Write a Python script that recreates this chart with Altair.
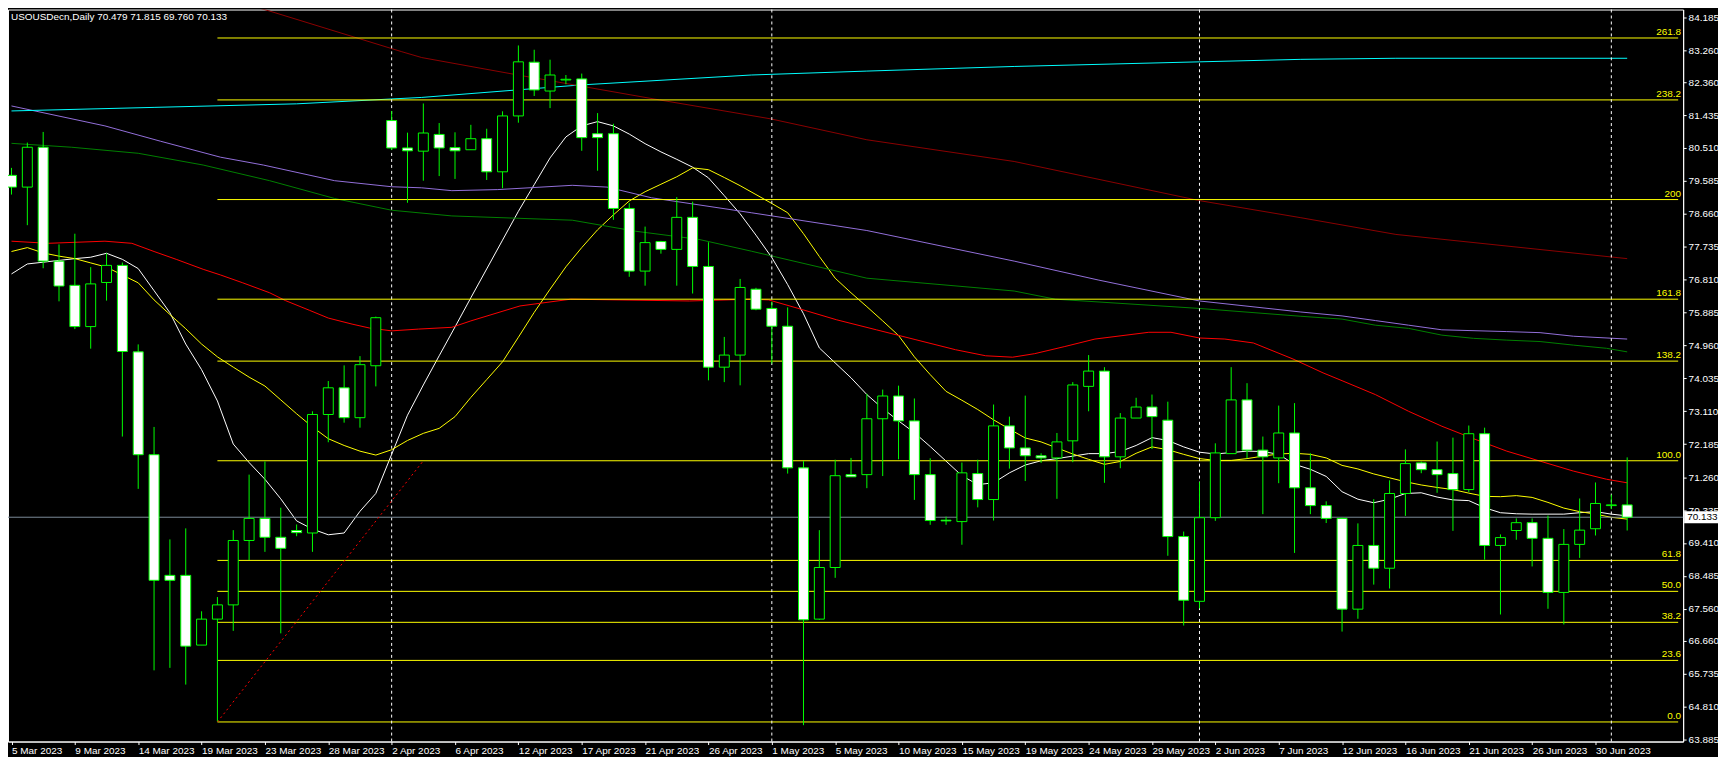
import altair as alt
import pandas as pd

TITLE = "USOUSDecn,Daily  70.479 71.815 69.760 70.133"

# ---- daily candles (bar index 0 = 5 Mar 2023 ... 102 = 3 Jul 2023) ----
opens = [79.74, 79.41, 80.53, 77.33, 76.65, 75.49, 76.73, 77.21, 74.78, 71.89,
         68.50, 68.50, 66.54, 67.27, 67.67, 69.48, 70.10, 69.57, 69.76, 69.69,
         73.02, 73.77, 72.93, 74.39, 81.28, 80.51, 80.42, 80.89, 80.52, 80.46,
         80.77, 79.84, 81.41, 82.92, 82.11, 82.42, 82.45, 80.91, 80.91, 78.81,
         77.05, 77.88, 77.66, 78.56, 77.18, 74.35, 74.69, 76.54, 76.00, 75.50,
         71.52, 67.27, 68.72, 71.33, 71.33, 72.90, 73.54, 72.84, 71.33, 70.05,
         70.01, 71.36, 70.63, 72.70, 72.08, 71.86, 71.80, 72.28, 73.81, 74.24,
         71.83, 72.92, 73.23, 72.86, 69.59, 67.77, 70.12, 71.92, 73.43, 72.02,
         71.80, 72.50, 70.96, 70.46, 70.10, 67.55, 69.34, 68.70, 70.80, 71.66,
         71.47, 71.36, 70.91, 72.48, 69.34, 69.76, 69.98, 69.54, 68.02, 69.37,
         69.81, 70.46, 70.479]
highs = [79.95, 80.66, 80.96, 77.80, 78.10, 77.16, 77.55, 77.29, 74.99, 72.67,
         69.51, 69.82, 67.49, 67.89, 69.77, 71.33, 71.70, 70.40, 69.93, 73.11,
         73.96, 74.40, 74.66, 75.77, 81.55, 80.94, 81.76, 81.21, 80.95, 81.16,
         81.05, 81.54, 83.39, 83.27, 82.99, 82.56, 82.60, 81.49, 81.19, 78.96,
         78.30, 77.90, 79.13, 79.00, 77.86, 75.20, 76.83, 76.58, 76.19, 76.03,
         71.71, 69.77, 71.75, 71.80, 73.60, 73.72, 73.83, 73.47, 71.79, 70.15,
         71.67, 71.75, 73.30, 72.96, 73.55, 71.93, 72.50, 73.93, 74.69, 74.35,
         73.06, 73.49, 73.58, 73.38, 69.73, 71.12, 72.21, 74.35, 73.90, 72.40,
         73.27, 73.34, 71.93, 70.58, 70.12, 69.96, 70.64, 71.17, 72.04, 71.70,
         72.26, 72.37, 72.71, 72.65, 69.65, 70.10, 70.10, 70.18, 69.80, 70.66,
         71.11, 70.77, 71.815]
lows = [79.20, 78.34, 77.13, 76.20, 75.42, 74.87, 76.22, 72.40, 70.93, 65.83,
        65.90, 65.43, 66.54, 64.38, 66.94, 68.93, 69.16, 66.87, 69.60, 69.16,
        72.24, 72.79, 72.65, 73.81, 80.45, 78.97, 79.59, 79.72, 79.64, 80.46,
        79.61, 79.38, 81.22, 81.97, 81.63, 82.30, 80.43, 79.87, 78.49, 76.89,
        76.64, 77.54, 76.64, 76.42, 73.98, 73.93, 73.84, 75.95, 74.45, 71.36,
        64.29, 67.25, 68.43, 71.27, 70.95, 71.29, 71.76, 70.62, 69.92, 69.92,
        69.36, 70.41, 70.04, 71.50, 71.15, 71.66, 70.65, 71.68, 73.11, 71.10,
        71.51, 72.92, 72.05, 69.05, 67.09, 67.57, 70.03, 71.92, 71.79, 70.22,
        71.09, 69.13, 70.22, 69.97, 66.92, 67.28, 68.24, 68.13, 70.17, 71.37,
        70.82, 69.75, 70.84, 68.94, 67.40, 69.50, 68.75, 67.56, 67.12, 68.99,
        69.62, 70.36, 69.760]
closes = [79.41, 80.53, 77.33, 76.63, 75.49, 76.69, 77.21, 74.79, 71.89, 68.36,
          68.36, 66.51, 67.27, 67.67, 69.48, 70.10, 69.57, 69.26, 69.70, 73.02,
          73.77, 72.93, 74.42, 75.74, 80.51, 80.43, 80.93, 80.51, 80.43, 80.77,
          79.84, 81.41, 82.93, 82.14, 82.56, 82.44, 80.80, 80.80, 78.81, 77.05,
          77.85, 77.66, 78.56, 77.18, 74.35, 74.69, 76.59, 75.98, 75.50, 71.52,
          67.25, 68.72, 71.30, 71.27, 72.90, 73.54, 72.84, 71.33, 70.04, 70.03,
          71.38, 70.63, 72.70, 72.08, 71.86, 71.80, 72.25, 73.85, 74.24, 71.83,
          72.92, 73.23, 72.96, 69.59, 67.80, 70.12, 71.94, 73.43, 72.02, 71.83,
          72.50, 70.96, 70.46, 70.10, 67.55, 69.34, 68.70, 70.80, 71.64, 71.47,
          71.33, 70.91, 72.48, 69.34, 69.56, 69.98, 69.54, 68.02, 69.37, 69.77,
          70.52, 70.48, 70.133]

# ---- moving averages ----
ma_white = [76.97, 77.25, 77.30, 77.35, 77.40, 77.44, 77.55, 77.38, 77.12, 76.50,
            75.88, 75.00, 74.28, 73.40, 72.19, 71.67, 71.20, 70.65, 70.03, 69.80,
            69.64, 69.69, 70.30, 70.80, 71.90, 73.00, 73.85, 74.67, 75.48, 76.30,
            77.11, 77.92, 78.73, 79.48, 80.23, 80.82, 81.13, 81.25, 81.13, 80.90,
            80.63, 80.40, 80.19, 79.97, 79.67, 79.17, 78.66, 78.06, 77.43, 76.67,
            75.85, 74.89, 74.47, 74.05, 73.58, 73.19, 72.84, 72.51, 72.12, 71.71,
            71.30, 71.05, 71.10, 71.38, 71.60, 71.72, 71.78, 71.85, 71.92, 71.92,
            71.98, 72.15, 72.37, 72.29, 72.11, 71.96, 71.91, 71.95, 71.99, 71.98,
            71.90, 71.62, 71.48, 71.28, 70.85, 70.64, 70.54, 70.64, 70.80, 70.82,
            70.70, 70.62, 70.60, 70.40, 70.26, 70.23, 70.22, 70.22, 70.22, 70.26,
            70.29, 70.22, 70.17]
ma_yellow = [77.60, 77.71, 77.56, 77.47, 77.40, 77.28, 77.16, 76.94, 76.72, 76.24,
             75.83, 75.43, 75.00, 74.64, 74.35, 74.07, 73.82, 73.43, 73.04, 72.67,
             72.34, 72.15, 71.99, 71.88, 72.03, 72.29, 72.49, 72.63, 72.96, 73.50,
             74.00, 74.50, 75.19, 75.89, 76.54, 77.17, 77.71, 78.21, 78.63, 79.02,
             79.28, 79.49, 79.70, 79.95, 79.90, 79.68, 79.45, 79.20, 78.95, 78.69,
             78.10, 77.46, 76.85, 76.44, 76.05, 75.65, 75.24, 74.64, 74.14, 73.67,
             73.42, 73.16, 72.87, 72.61, 72.36, 72.25, 72.08, 71.91, 71.76, 71.62,
             71.70, 71.93, 72.11, 72.03, 71.90, 71.78, 71.73, 71.73, 71.78, 71.85,
             71.91, 71.93, 71.90, 71.80, 71.59, 71.49, 71.35, 71.24, 71.13, 71.04,
             70.97, 70.91, 70.81, 70.72, 70.71, 70.74, 70.69, 70.55, 70.39, 70.29,
             70.22, 70.13, 70.08]
red_i = [0, 2.3, 5.9, 7.6, 9, 10.4, 12.1, 13.2, 14.6, 16.3, 17.3, 18.8, 20, 21.5, 22.6,
         24, 25.7, 27.8, 29, 32.1, 35.3, 42.8, 46.7, 47.8, 49.6, 52.1, 54.6, 57.1,
         59.6, 61.5, 63.2, 64.6, 66.5, 68.4, 71.8, 73.2, 75, 76.6, 78.4, 80.9, 82.8,
         84, 86.1, 88.2, 90.3, 92.3, 94.4, 96.5, 98.6, 100.7, 102]
red_v = [77.89, 77.83, 77.89, 77.83, 77.60, 77.38, 77.10, 76.94, 76.72, 76.44, 76.22,
         75.95, 75.73, 75.56, 75.45, 75.37, 75.42, 75.47, 75.65, 76.07, 76.26, 76.21,
         76.26, 76.24, 76.01, 75.68, 75.40, 75.12, 74.84, 74.67, 74.63, 74.73, 74.93,
         75.14, 75.33, 75.33, 75.17, 75.14, 75.03, 74.58, 74.19, 73.97, 73.58, 73.11,
         72.69, 72.34, 71.99, 71.71, 71.43, 71.20, 71.10]
purple_i = [0, 5.9, 9.4, 13.2, 15.9, 20.4, 24, 25.9, 27.8, 30.7, 35.4, 37.6, 40.4,
            46.7, 54, 63.3, 68.6, 75, 81.4, 84, 86.1, 88.2, 90.3, 94.4, 96.5, 98.6, 102]
purple_v = [81.69, 81.13, 80.70, 80.25, 80.03, 79.59, 79.42, 79.39, 79.31, 79.34,
            79.46, 79.41, 79.11, 78.69, 78.19, 77.33, 76.80, 76.21, 75.90, 75.79,
            75.66, 75.53, 75.40, 75.35, 75.32, 75.22, 75.14]
green_i = [0, 3.8, 8, 12.1, 16.3, 20.4, 24, 27.8, 35.4, 39.4, 43.4, 46.7, 54, 63.3,
           65.9, 75, 81.4, 84, 86.1, 88.2, 90.3, 92.3, 94.4, 96.5, 98.6, 100.7, 102]
green_v = [80.64, 80.53, 80.36, 80.03, 79.59, 79.09, 78.76, 78.60, 78.48, 78.17,
           77.94, 77.61, 76.85, 76.49, 76.26, 76.00, 75.78, 75.70, 75.53, 75.44,
           75.25, 75.16, 75.11, 75.07, 74.97, 74.88, 74.78]
cyan_i = [0, 9, 18, 25.9, 35.9, 46.7, 54, 63.3, 75, 81.4, 87.4, 102]
cyan_v = [81.55, 81.65, 81.75, 81.93, 82.28, 82.56, 82.67, 82.80, 82.93, 83.00, 83.03, 83.03]
maroon_i = [9.6, 16.2, 24.6, 25.9, 32.1, 40.9, 47.9, 54, 63.3, 75, 81.4, 87.4, 102]
maroon_v = [85.20, 84.37, 83.22, 83.05, 82.55, 81.86, 81.33, 80.74, 80.13, 79.03,
            78.55, 78.08, 77.40]

# ---- Fibonacci levels (swing low at bar 13, swing high at bar 26) ----
fib_labels = ["261.8", "238.2", "200", "161.8", "138.2", "100.0", "61.8", "50.0", "38.2", "23.6", "0.0"]
fib_levels = [83.60, 81.86, 79.06, 76.26, 74.52, 71.72, 68.92, 68.05, 67.18, 66.11, 64.38]
fib_anchor_i = [13, 26]
fib_anchor_v = [64.38, 71.72]

# ---- month separators, current price ----
sep_i = [24, 48, 75, 101]
last_price = 70.133

# ---- axes ----
tick_idx = [0, 4, 8, 12, 16, 20, 24, 28, 32, 36, 40, 44, 48, 52, 56, 60, 64, 68, 72,
            76, 80, 84, 88, 92, 96, 100]
tick_lbl = ["5 Mar 2023", "9 Mar 2023", "14 Mar 2023", "19 Mar 2023", "23 Mar 2023",
            "28 Mar 2023", "2 Apr 2023", "6 Apr 2023", "12 Apr 2023", "17 Apr 2023",
            "21 Apr 2023", "26 Apr 2023", "1 May 2023", "5 May 2023", "10 May 2023",
            "15 May 2023", "19 May 2023", "24 May 2023", "29 May 2023", "2 Jun 2023",
            "7 Jun 2023", "12 Jun 2023", "16 Jun 2023", "21 Jun 2023", "26 Jun 2023",
            "30 Jun 2023"]
price_ticks = [84.185, 83.260, 82.360, 81.435, 80.510, 79.585, 78.660, 77.735, 76.810,
               75.885, 74.960, 74.035, 73.110, 72.185, 71.260, 70.335, 69.410, 68.485,
               67.560, 66.660, 65.735, 64.810, 63.885]

W, H = 1682, 735
X_DOM = [0.09375, 105.21875]
Y_DOM = [63.83, 84.40]
FONT = "Liberation Sans"

xs = alt.Scale(domain=X_DOM, nice=False, zero=False)
ys = alt.Scale(domain=Y_DOM, nice=False, zero=False)

label_expr = ""
for i, l in zip(tick_idx, tick_lbl):
    label_expr += f"datum.value == {i} ? '{l}' : "
label_expr += "''"

xaxis = alt.Axis(values=tick_idx, labelExpr=label_expr, title=None, grid=False,
                 labelAlign="left", labelBaseline="top", tickSize=3, labelPadding=1,
                 labelOverlap=False, labelFlush=False, labelColor="#ffffff",
                 tickColor="#ffffff", domainColor="#ffffff", labelFont=FONT,
                 labelFontSize=10)
yaxis = alt.Axis(orient="right", values=price_ticks, format=".3f", title=None,
                 grid=False, tickSize=3, labelPadding=2, labelOverlap=False,
                 labelFlush=False, labelColor="#ffffff", tickColor="#ffffff",
                 domainColor="#ffffff", labelFont=FONT, labelFontSize=10,
                 labelBaseline="middle")


def X(f):
    return alt.X(f, type="quantitative", scale=xs, axis=xaxis)


def Y(f):
    return alt.Y(f, type="quantitative", scale=ys, axis=yaxis)


# ---- data frames ----
n = len(opens)
candles = pd.DataFrame({"i": list(range(n)), "o": opens, "h": highs, "l": lows, "c": closes})

rows = []
for name, iv, vv in [("white", list(range(n)), ma_white),
                     ("yellow", list(range(n)), ma_yellow),
                     ("red", red_i, red_v),
                     ("purple", purple_i, purple_v),
                     ("green", green_i, green_v),
                     ("cyan", cyan_i, cyan_v),
                     ("maroon", maroon_i, maroon_v)]:
    for a, b in zip(iv, vv):
        rows.append({"i": a, "v": b, "s": name})
ma = pd.DataFrame(rows)
ma_names = ["maroon", "cyan", "purple", "green", "red", "yellow", "white"]
ma_colors = ["#8b0000", "#00ffff", "#9370db", "#008000", "#ff0000", "#ffff00", "#ffffff"]

fib = pd.DataFrame({"lv": fib_levels, "lbl": fib_labels,
                    "s": [fib_anchor_i[0]] * len(fib_levels),
                    "e": [X_DOM[1]] * len(fib_levels)})
fib_tl = pd.DataFrame({"i": fib_anchor_i, "v": fib_anchor_v})
seps = pd.DataFrame({"i": sep_i})
cur = pd.DataFrame({"p": [last_price], "t": [f"{last_price:.3f}"]})
ttl = pd.DataFrame({"t": [TITLE]})

# ---- layers ----
lines = alt.Chart(ma).mark_line(strokeWidth=1, clip=True).encode(
    x=X("i"), y=Y("v"),
    color=alt.Color("s:N", scale=alt.Scale(domain=ma_names, range=ma_colors), legend=None),
    detail="s:N")

fib_rules = alt.Chart(fib).mark_rule(color="#ffff00", strokeWidth=1).encode(
    x=X("s"), x2="e:Q", y=Y("lv"))
fib_text = alt.Chart(fib).mark_text(align="right", baseline="bottom", dy=-1,
                                    color="#ffff00", font=FONT, fontSize=10).encode(
    x=alt.value(W - 2), y=Y("lv"), text="lbl:N")
fib_line = alt.Chart(fib_tl).mark_line(color="#ff0000", strokeDash=[2, 3], strokeWidth=1).encode(
    x=X("i"), y=Y("v"))

sep_rules = alt.Chart(seps).mark_rule(color="#ffffff", strokeDash=[3, 3], strokeWidth=1).encode(
    x=X("i"))
price_rule = alt.Chart(cur).mark_rule(color="#7b8a99", strokeWidth=1).encode(y=Y("p"))

wicks = alt.Chart(candles).mark_rule(color="#00ff00", strokeWidth=1).encode(
    x=X("i"), y=Y("l"), y2="h:Q")
bodies = alt.Chart(candles).mark_bar(size=10, stroke="#00ff00", strokeWidth=1).encode(
    x=X("i"), y=Y("o"), y2="c:Q",
    fill=alt.condition("datum.c < datum.o", alt.value("#ffffff"), alt.value("#000000")))

title_txt = alt.Chart(ttl).mark_text(align="left", baseline="middle", color="#ffffff",
                                     font=FONT, fontSize=10).encode(
    x=alt.value(3), y=alt.value(8), text="t:N")

box = alt.Chart(cur).transform_calculate(
    top="datum.p + 0.17", bot="datum.p - 0.17"
).mark_rect(color="#ffffff", clip=False).encode(
    x=alt.value(W + 1), x2=alt.value(W + 35), y=Y("top:Q"), y2="bot:Q")
box_txt = alt.Chart(cur).mark_text(align="left", baseline="middle", color="#000000",
                                   font=FONT, fontSize=10).encode(
    x=alt.value(W + 4), y=Y("p"), text="t:N")

chart = alt.layer(
    lines, fib_rules, sep_rules, price_rule, wicks, bodies, fib_line,
    fib_text, title_txt, box, box_txt
).properties(
    width=W, height=H,
    background="#000000",
    padding={"left": 0, "top": 0, "right": 35, "bottom": 14},
    autosize=alt.AutoSizeParams(type="none"),
).configure_view(stroke="#ffffff", strokeWidth=1)

chart.save("out.html", embed_options={"renderer": "svg", "actions": False})
